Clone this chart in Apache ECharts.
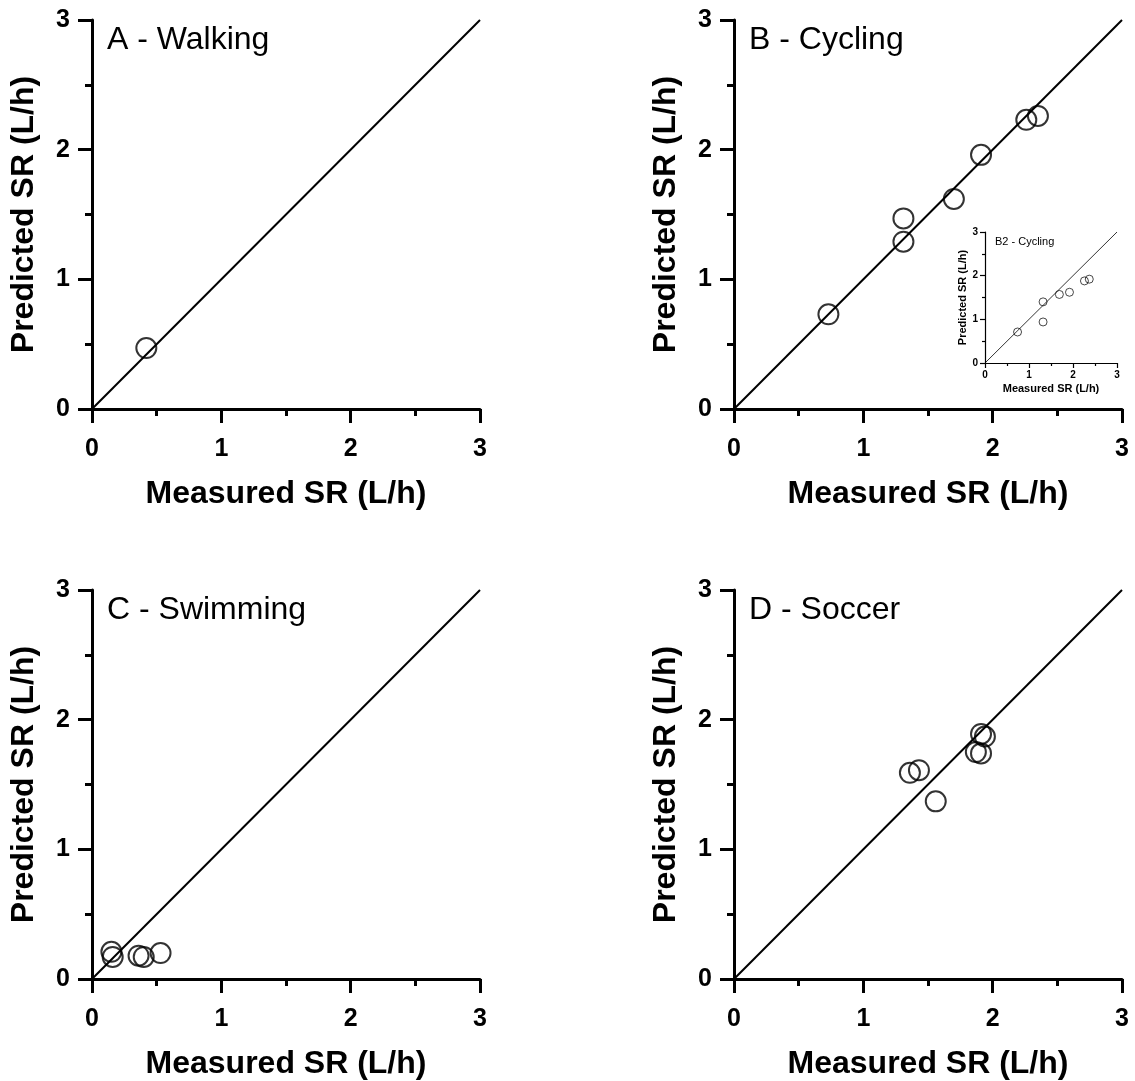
<!DOCTYPE html>
<html>
<head>
<meta charset="utf-8">
<script src="https://cdn.jsdelivr.net/npm/echarts@6/dist/echarts.min.js"></script>
<style>
  html, body { margin: 0; padding: 0; background: #fff; }
  #chart { width: 1135px; height: 1081px; }
</style>
</head>
<body>
<div id="chart"></div>
<script>
// measured vs predicted sweat rate, L/h
var walkingData = [[0.42, 0.47]];
var cyclingData = [[0.73, 0.73], [1.31, 1.29], [1.31, 1.47], [1.70, 1.62], [1.91, 1.96], [2.26, 2.23], [2.35, 2.26]];
var cyclingB2Data = [[0.74, 0.71], [1.32, 1.40], [1.32, 0.94], [1.69, 1.57], [1.92, 1.62], [2.26, 1.88], [2.37, 1.92]];
var swimmingData = [[0.15, 0.21], [0.16, 0.17], [0.36, 0.18], [0.40, 0.17], [0.53, 0.20]];
var soccerData = [[1.36, 1.59], [1.43, 1.61], [1.56, 1.37], [1.91, 1.89], [1.94, 1.87], [1.87, 1.75], [1.91, 1.74]];
var identityLine = [[0, 0], [3, 3]];
var panelTitles = ['A - Walking', 'B - Cycling', 'C - Swimming', 'D - Soccer', 'B2 - Cycling'];
var xName = 'Measured SR (L/h)';
var yName = 'Predicted SR (L/h)';

var FONT = 'Liberation Sans, Arial, sans-serif';

var panels = [
    { data: walkingData, grid: { left: 92, top: 20, width: 388, height: 389 }, small: false },
    { data: cyclingData, grid: { left: 734, top: 20, width: 388, height: 389 }, small: false },
    { data: swimmingData, grid: { left: 92, top: 590, width: 388, height: 389 }, small: false },
    { data: soccerData, grid: { left: 734, top: 590, width: 388, height: 389 }, small: false },
    { data: cyclingB2Data, grid: { left: 985, top: 232, width: 132, height: 131 }, small: true }
];

function makeAxis(i, p, isX) {
    var s = p.small;
    return {
        type: 'value',
        gridIndex: i,
        min: 0, max: 3, interval: 1,
        name: isX ? xName : yName,
        nameLocation: 'middle',
        nameGap: isX ? (s ? 20 : 69) : (s ? 17 : 52),
        nameTextStyle: { fontFamily: FONT, fontWeight: 'bold', fontSize: s ? 11 : 32, color: '#000' },
        axisLine: { show: true, onZero: false, lineStyle: { color: '#000', width: s ? 1.2 : 3 } },
        axisTick: { show: true, inside: false, length: s ? 5 : 14, lineStyle: { color: '#000', width: s ? 1.2 : 3 } },
        minorTick: { show: true, splitNumber: 2, length: s ? 3 : 7, lineStyle: { color: '#000', width: s ? 1.2 : 3 } },
        axisLabel: { fontFamily: FONT, fontWeight: 'bold', fontSize: s ? 10 : 25, color: '#000', margin: isX ? (s ? 7 : 28) : (s ? 7 : 22) },
        splitLine: { show: false }
    };
}

var xAxes = [], yAxes = [], grids = [], series = [], titles = [];
panels.forEach(function(p, i) {
    grids.push(p.grid);
    xAxes.push(makeAxis(i, p, true));
    yAxes.push(makeAxis(i, p, false));
    series.push({
        type: 'line', xAxisIndex: i, yAxisIndex: i,
        data: identityLine, showSymbol: false, symbol: 'none',
        lineStyle: { color: '#000', width: p.small ? 0.8 : 2 },
        silent: true, z: 2
    });
    series.push({
        type: 'scatter', xAxisIndex: i, yAxisIndex: i,
        data: p.data,
        symbol: 'circle', symbolSize: p.small ? 8 : 20,
        itemStyle: { color: 'rgba(255,255,255,0)', borderColor: '#000', borderWidth: p.small ? 0.9 : 2 },
        z: 3
    });
    titles.push({
        text: panelTitles[i],
        left: p.grid.left + (p.small ? 5 : 10),
        top: p.grid.top + (p.small ? -1 : -1),
        textStyle: { fontFamily: FONT, fontWeight: 'normal', fontSize: p.small ? 11 : 32, color: '#000' }
    });
});

var chart = echarts.init(document.getElementById('chart'), null, { renderer: 'canvas' });
chart.setOption({
    backgroundColor: '#fff',
    animation: false,
    title: titles,
    grid: grids,
    xAxis: xAxes,
    yAxis: yAxes,
    series: series
});
</script>
</body>
</html>
